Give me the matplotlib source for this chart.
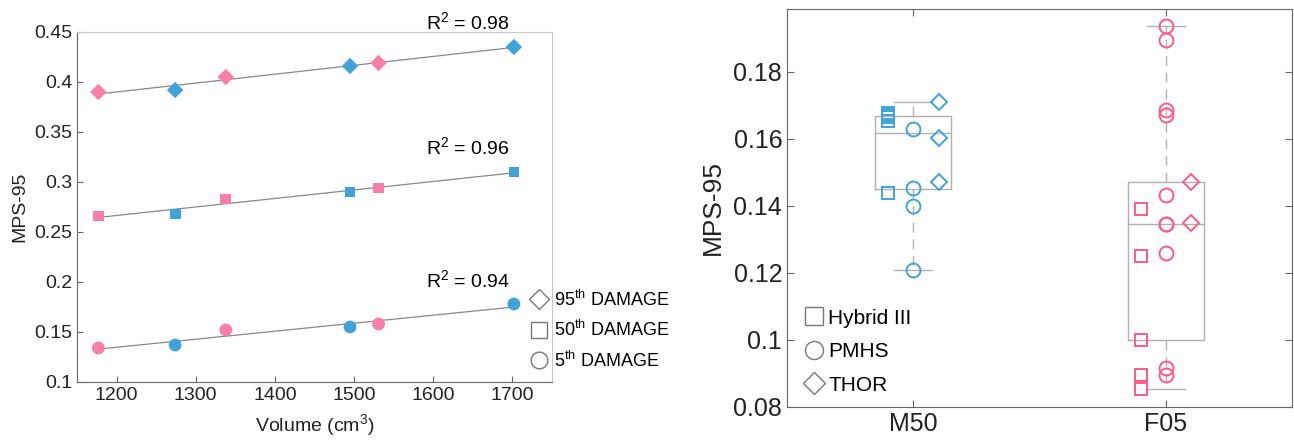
import numpy as np
import matplotlib
matplotlib.use("Agg")
import matplotlib.pyplot as plt
from matplotlib.lines import Line2D

plt.rcParams["font.family"] = ["Liberation Sans", "DejaVu Sans"]
plt.rcParams["mathtext.fontset"] = "custom"
plt.rcParams["mathtext.rm"] = "Liberation Sans"
plt.rcParams["mathtext.it"] = "Liberation Sans:italic"

# ---- left panel data: MPS-95 vs brain volume ----
volume = [1177, 1274, 1338, 1495, 1531, 1702]
is_female = [True, False, True, False, True, False]
mps_95th = [0.390, 0.392, 0.405, 0.416, 0.419, 0.435]
mps_50th = [0.266, 0.268, 0.283, 0.290, 0.294, 0.310]
mps_5th = [0.134, 0.137, 0.152, 0.155, 0.158, 0.178]
r2_labels = ["0.98", "0.96", "0.94"]
damage_labels = ["95$^{\\rm th}$ DAMAGE", "50$^{\\rm th}$ DAMAGE", "5$^{\\rm th}$ DAMAGE"]

# ---- right panel data: MPS-95 by occupant group ----
groups = ["M50", "F05"]
m50_hybrid = [0.1679, 0.1672, 0.1666, 0.1653, 0.144]
m50_pmhs = [0.163, 0.1453, 0.140, 0.1209]
m50_thor = [0.171, 0.1603, 0.1472]
f05_hybrid = [0.1391, 0.125, 0.100, 0.0896, 0.0854]
f05_pmhs = [0.1937, 0.1896, 0.1687, 0.1672, 0.1433, 0.1345, 0.1345, 0.126, 0.0916, 0.0896]
f05_thor = [0.1472, 0.1349]
model_labels = ["Hybrid III", "PMHS", "THOR"]

blue = "#3fa3da"
pink_fill = "#f97fa7"
pink_line = "#ff5a84"
dark = "#666666"
light = "#c8c8c8"

fig = plt.figure(figsize=(12.94, 4.41), dpi=100)

# ================= left panel =================
ax1 = fig.add_axes([0.0595, 0.1338, 0.367, 0.7937])
cols = [pink_fill if f else blue for f in is_female]
vol = np.array(volume)
series = [(mps_95th, "D", 70), (mps_50th, "s", 60), (mps_5th, "o", 85)]
r2_y = [0.46, 0.335, 0.202]
for (vals, mk, sz), lab, ry in zip(series, r2_labels, r2_y):
    vals = np.array(vals)
    k, b = np.polyfit(vol, vals, 1)
    xs = np.array([vol.min(), vol.max()])
    ax1.plot(xs, k * xs + b, color="#888888", lw=0.9, zorder=1)
    ax1.scatter(vol, vals, marker=mk, s=sz, c=cols, edgecolors="none", zorder=2)
    ax1.text(1644, ry, "R$^2$ = " + lab, fontsize=14, ha="center", va="center",
             clip_on=False)

ax1.set_xlim(1150, 1750)
ax1.set_ylim(0.1, 0.45)
ax1.set_xticks([1200, 1300, 1400, 1500, 1600, 1700])
ax1.set_yticks([0.1, 0.15, 0.2, 0.25, 0.3, 0.35, 0.4, 0.45])
ax1.set_yticklabels(["0.1", "0.15", "0.2", "0.25", "0.3", "0.35", "0.4", "0.45"])
ax1.tick_params(direction="in", labelsize=14, colors=dark, labelcolor="#222222", length=4)
for s in ["left", "bottom"]:
    ax1.spines[s].set_color(dark)
for s in ["top", "right"]:
    ax1.spines[s].set_color(light)
ax1.set_ylabel("MPS-95", fontsize=14, color="#222222", labelpad=4)
ax1.set_xlabel("Volume (cm$^3$)", fontsize=14, color="#222222", labelpad=6)

h1 = [Line2D([], [], ls="none", marker=m, ms=ms, mfc="none", mec="#777777", mew=1)
      for m, ms in [("D", 10), ("s", 12), ("o", 12)]]
fig.legend(h1, damage_labels, loc="upper left", bbox_to_anchor=(0.405, 0.36),
           frameon=False, fontsize=13, handlelength=0.8, handletextpad=0.45,
           labelspacing=0.58, borderaxespad=0)

# ================= right panel =================
ax2 = fig.add_axes([0.6082, 0.0771, 0.3903, 0.9025])
all_groups = [m50_hybrid + m50_pmhs + m50_thor, f05_hybrid + f05_pmhs + f05_thor]
ax2.boxplot(all_groups, positions=[1, 2], widths=0.3, whis=(0, 100), showfliers=False,
            boxprops=dict(color="#b0b0b0", lw=1),
            medianprops=dict(color="#b0b0b0", lw=1),
            whiskerprops=dict(color="#b0b0b0", lw=1, ls=(0, (7, 5))),
            capprops=dict(color="#b0b0b0", lw=1), capwidths=0.15, zorder=1)

for pos, col, hyb, pm, th in [(1, blue, m50_hybrid, m50_pmhs, m50_thor),
                              (2, pink_line, f05_hybrid, f05_pmhs, f05_thor)]:
    ax2.plot([pos - 0.1] * len(hyb), hyb, ls="none", marker="s", ms=8.5, mfc="none",
             mec=col, mew=1.4, zorder=3)
    ax2.plot([pos] * len(pm), pm, ls="none", marker="o", ms=10, mfc="none",
             mec=col, mew=1.4, zorder=3)
    ax2.plot([pos + 0.1] * len(th), th, ls="none", marker="D", ms=8.5, mfc="none",
             mec=col, mew=1.4, zorder=3)

ax2.set_xlim(0.5, 2.5)
ax2.set_ylim(0.08, 0.1988)
ax2.set_xticks([1, 2])
ax2.set_xticklabels(groups)
ax2.set_yticks([0.08, 0.1, 0.12, 0.14, 0.16, 0.18])
ax2.set_yticklabels(["0.08", "0.1", "0.12", "0.14", "0.16", "0.18"])
ax2.tick_params(direction="in", labelsize=18, colors=dark, labelcolor="#222222",
                length=5, top=True, right=True)
for s in ax2.spines.values():
    s.set_color(dark)
ax2.set_ylabel("MPS-95", fontsize=19, color="#222222", labelpad=6)

h2 = [Line2D([], [], ls="none", marker=m, ms=ms, mfc="none", mec="#777777", mew=1)
      for m, ms in [("s", 13), ("o", 13), ("D", 11)]]
ax2.legend(h2, model_labels, loc="lower left", bbox_to_anchor=(0.02, 0.01),
           frameon=False, fontsize=15, handlelength=0.8, handletextpad=0.3,
           labelspacing=0.7, borderaxespad=0)

fig.savefig("out.png", dpi=100)
